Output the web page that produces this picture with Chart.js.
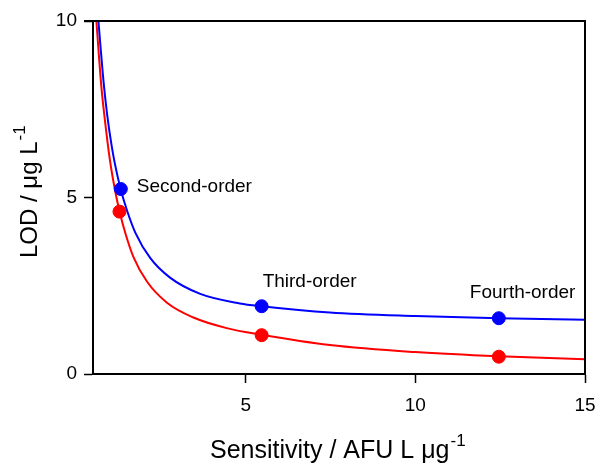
<!DOCTYPE html>
<html lang="en">
<head>
    <meta charset="UTF-8">
    <title>LOD vs Sensitivity</title>
    <script src="https://cdn.jsdelivr.net/npm/chart.js"></script>
    <style>
        * { box-sizing: border-box; margin: 0; padding: 0; }
        body { background: #fff; }
        canvas { display: block; }
    </style>
</head>
<body>
    <canvas id="grafico" width="597" height="464"></canvas>

    <script>
        // curve readings (sensitivity, LOD)
        const blueCurveX = [0.66, 0.72, 0.82, 0.92, 1.05, 1.15, 1.32, 1.5, 1.75, 2.19, 2.77, 3.66, 4.83, 5.47, 7.48, 10, 12.46, 15];
        const blueCurveY = [10, 9.29, 8.19, 7.33, 6.46, 5.93, 5.22, 4.64, 4.0, 3.28, 2.73, 2.27, 2.0, 1.92, 1.74, 1.64, 1.58, 1.54];
        const redCurveX = [0.6, 0.66, 0.75, 0.85, 1.0, 1.15, 1.28, 1.45, 1.69, 2.09, 2.68, 3.46, 4.44, 5.47, 7.48, 10, 12.46, 15];
        const redCurveY = [10, 9.2, 8.1, 7.2, 6.05, 5.2, 4.62, 4.0, 3.32, 2.62, 2.02, 1.6, 1.3, 1.11, 0.82, 0.62, 0.5, 0.42];

        // measured points
        const blueDotX = [1.32, 5.47, 12.46];
        const blueDotY = [5.24, 1.92, 1.58];
        const redDotX = [1.28, 5.47, 12.46];
        const redDotY = [4.6, 1.1, 0.49];
        const dotLabels = ['Second-order', 'Third-order', 'Fourth-order'];

        const xTicks = [5, 10, 15];
        const yTicks = [0, 5, 10];

        const FONT = "'Liberation Sans', Arial, sans-serif";

        function pares(xs, ys) {
            return xs.map((x, i) => ({ x: x, y: ys[i] }));
        }

        // frame, labels and axis titles with superscripts
        const extras = {
            id: 'extras',
            afterDraw(chart) {
                const ctx = chart.ctx;
                const a = chart.chartArea;
                const sx = chart.scales.x, sy = chart.scales.y;
                ctx.save();
                ctx.strokeStyle = '#000';
                ctx.lineWidth = 2;
                ctx.beginPath();
                ctx.moveTo(84, a.top);
                ctx.lineTo(a.right, a.top);
                ctx.lineTo(a.right, a.bottom);
                ctx.stroke();

                // point labels
                ctx.fillStyle = '#000';
                ctx.font = '19px ' + FONT;
                ctx.textBaseline = 'middle';
                ctx.textAlign = 'left';
                const offs = [[16, -2], [1, -24], [-29, -25]];
                dotLabels.forEach((t, i) => {
                    const px = sx.getPixelForValue(blueDotX[i]);
                    const py = sy.getPixelForValue(blueDotY[i]);
                    ctx.fillText(t, px + offs[i][0], py + offs[i][1]);
                });

                // x title
                ctx.textBaseline = 'alphabetic';
                ctx.font = '25px ' + FONT;
                const xt = 'Sensitivity / AFU L \u03bcg';
                let x0 = 210;
                ctx.fillText(xt, x0, 458);
                const w = ctx.measureText(xt).width;
                ctx.font = '17px ' + FONT;
                ctx.fillText('-1', x0 + w + 1, 446);

                // y title
                ctx.translate(37, 258);
                ctx.rotate(-Math.PI / 2);
                ctx.font = '24px ' + FONT;
                const yt = 'LOD / \u03bcg L';
                ctx.fillText(yt, 0, 0);
                const wy = ctx.measureText(yt).width;
                ctx.font = '17px ' + FONT;
                ctx.fillText('-1', wy + 1, -12);
                ctx.restore();
            }
        };

        const ctx = document.getElementById('grafico').getContext('2d');

        const grafico = new Chart(ctx, {
            type: 'scatter',
            data: {
                datasets: [
                    {
                        data: pares(blueDotX, blueDotY),
                        backgroundColor: '#0000ff',
                        borderColor: '#0000ff',
                        pointRadius: 6.5,
                        showLine: false
                    },
                    {
                        data: pares(redDotX, redDotY),
                        backgroundColor: '#ff0000',
                        borderColor: '#ff0000',
                        pointRadius: 6.5,
                        showLine: false
                    },
                    {
                        data: pares(blueCurveX, blueCurveY),
                        borderColor: '#0000ff',
                        borderWidth: 2,
                        pointRadius: 0,
                        showLine: true,
                        cubicInterpolationMode: 'monotone'
                    },
                    {
                        data: pares(redCurveX, redCurveY),
                        borderColor: '#ff0000',
                        borderWidth: 2,
                        pointRadius: 0,
                        showLine: true,
                        cubicInterpolationMode: 'monotone'
                    }
                ]
            },
            options: {
                responsive: false,
                animation: false,
                layout: { padding: { left: 0, right: 12, top: 21, bottom: 0 } },
                plugins: {
                    legend: { display: false },
                    tooltip: { enabled: false }
                },
                scales: {
                    x: {
                        type: 'linear',
                        min: 0.5,
                        max: 15,
                        afterBuildTicks: s => { s.ticks = xTicks.map(v => ({ value: v })); },
                        afterFit: s => { s.height = 90; s.paddingLeft = 0; s.paddingRight = 0; },
                        grid: { drawOnChartArea: false, tickLength: 9, tickColor: '#000', tickWidth: 1.5 },
                        border: { display: true, color: '#000', width: 2 },
                        ticks: { color: '#000', font: { family: FONT, size: 19 }, padding: 11, maxRotation: 0 }
                    },
                    y: {
                        min: 0,
                        max: 10,
                        afterBuildTicks: s => { s.ticks = yTicks.map(v => ({ value: v })); },
                        afterFit: s => { s.width = 93; s.paddingTop = 0; s.paddingBottom = 0; },
                        grid: { drawOnChartArea: false, tickLength: 9, tickColor: '#000', tickWidth: 1.5 },
                        border: { display: true, color: '#000', width: 2 },
                        ticks: { color: '#000', font: { family: FONT, size: 19 }, padding: 7 }
                    }
                }
            },
            plugins: [extras]
        });
    </script>
</body>
</html>
